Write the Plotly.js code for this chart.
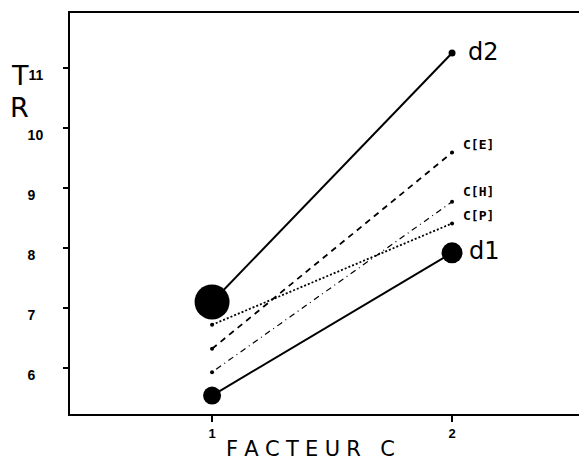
<!DOCTYPE html>
<html>
<head>
<meta charset="utf-8">
<script src="https://cdn.plot.ly/plotly-3.0.1.min.js"></script>
<style>
  html, body { margin: 0; padding: 0; background: #fff; }
  #chart { width: 579px; height: 462px; }
</style>
</head>
<body>
<div id="chart"></div>
<script>
// Levels of factor C
const factorC = [1, 2];

// TR means for each series at C = 1 and C = 2
const d2 = [7.1, 11.25];
const d1 = [5.54, 7.92];
const cE = [6.32, 9.59];
const cH = [5.93, 8.77];
const cP = [6.72, 8.41];

const seriesLabels = ['d2', 'd1', 'C[E]', 'C[H]', 'C[P]'];
const yTickVals = [6, 7, 8, 9, 10, 11];
const xTickVals = [1, 2];
const xTitle = 'FACTEUR C';

const ink = '#000000';

function series(y, dash, width, sizes) {
  return {
    x: factorC, y: y, type: 'scatter', mode: 'lines+markers',
    opacity: 1,
    line: { color: ink, width: width, dash: dash },
    marker: { color: ink, opacity: 1, size: sizes, line: { color: ink, width: 0 } },
    showlegend: false, hoverinfo: 'skip'
  };
}

const traces = [
  series(d2, 'solid', 2, [35, 7]),
  series(d1, 'solid', 2, [18, 21]),
  series(cE, '6px,5px', 1.8, [4, 4]),
  series(cH, '1px,4px,6px,4px', 1.2, [4, 4]),
  series(cP, '2px,2px', 1.8, [4, 4])
];

const ends = [d2, d1, cE, cH, cP];
const labelStyle = [
  { size: 24, family: 'DejaVu Sans', dy: 1, dx: 14 },
  { size: 24, family: 'DejaVu Sans', dy: 2, dx: 15 },
  { size: 13, family: 'DejaVu Sans Mono', dy: 8, dx: 9, bold: true },
  { size: 13, family: 'DejaVu Sans Mono', dy: 10, dx: 9, bold: true },
  { size: 13, family: 'DejaVu Sans Mono', dy: 8, dx: 9, bold: true }
];

const annotations = seriesLabels.map((lab, i) => ({
  x: factorC[1], y: ends[i][1], xref: 'x', yref: 'y',
  text: labelStyle[i].bold ? '<b>' + lab + '</b>' : lab,
  showarrow: false, xanchor: 'left', yanchor: 'middle',
  xshift: labelStyle[i].dx, yshift: labelStyle[i].dy,
  font: { family: labelStyle[i].family, size: labelStyle[i].size, color: ink }
}));

// Stacked "T" / "R" axis caption
annotations.push(
  { x: 0, xref: 'paper', y: 11, yref: 'y', text: 'T', showarrow: false,
    xanchor: 'center', yanchor: 'middle', xshift: -50, yshift: -7,
    font: { family: 'DejaVu Sans', size: 27, color: ink } },
  { x: 0, xref: 'paper', y: 10, yref: 'y', text: 'R', showarrow: false,
    xanchor: 'center', yanchor: 'middle', xshift: -51, yshift: 21,
    font: { family: 'DejaVu Sans', size: 27, color: ink } }
);

// x axis caption, letter-spaced, sitting a little left of the plot centre
const spaced = xTitle.split('').join('\u2009\u200a');
annotations.push({
  x: 0, xref: 'paper', y: 0, yref: 'paper', text: spaced, showarrow: false,
  xanchor: 'center', yanchor: 'top', xshift: 240, yshift: -21,
  font: { family: 'DejaVu Sans', size: 21, color: ink }
});

// single-digit labels sit a little further from the axis than 10 and 11
const yTickText = yTickVals.map(v => v < 10 ? v + '\u2007' : String(v));

const layout = {
  width: 579, height: 462,
  margin: { l: 70, r: 0, t: 13, b: 48 },
  paper_bgcolor: '#fff', plot_bgcolor: '#fff',
  xaxis: {
    range: [0.408, 2.529], tickvals: xTickVals, ticktext: xTickVals.map(String),
    ticks: 'outside', ticklen: 6, tickwidth: 1.5, tickcolor: ink,
    showline: true, linecolor: ink, linewidth: 2, mirror: true,
    showgrid: false, zeroline: false,
    tickfont: { family: 'Liberation Sans', size: 13, color: ink, weight: 'bold' }
  },
  yaxis: {
    range: [5.233, 11.917], tickvals: yTickVals, ticktext: yTickText,
    ticks: 'outside', ticklen: 5, tickwidth: 1.5, tickcolor: ink,
    showline: true, linecolor: ink, linewidth: 2, mirror: false,
    showgrid: false, zeroline: false,
    ticklabelshift: 7, ticklabelstandoff: 17,
    tickfont: { family: 'Liberation Sans', size: 14, color: ink, weight: 'bold' }
  },
  annotations: annotations,
  showlegend: false
};

Plotly.newPlot('chart', traces, layout, { staticPlot: true, displayModeBar: false });
</script>
</body>
</html>
